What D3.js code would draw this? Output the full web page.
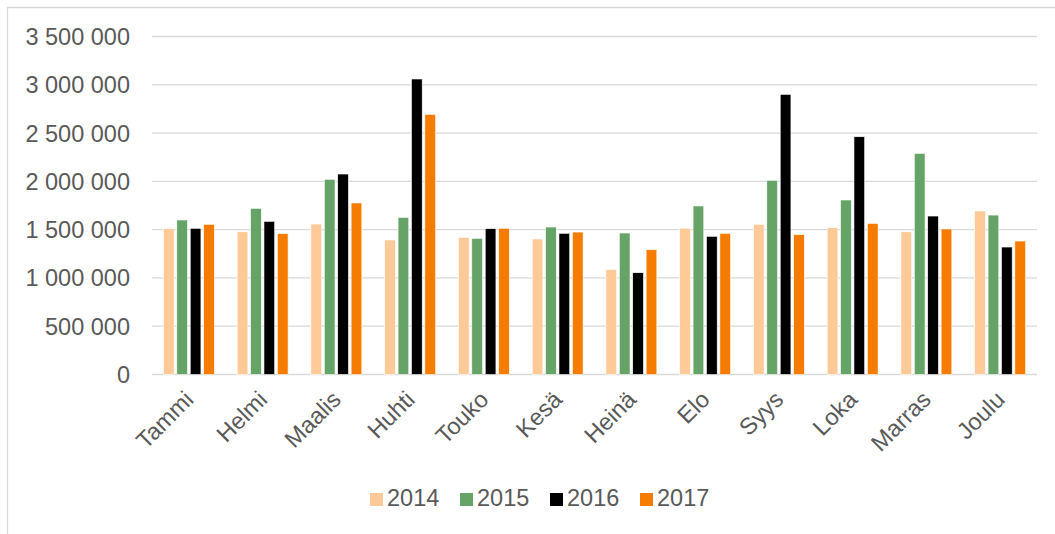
<!DOCTYPE html>
<html><head><meta charset="utf-8">
<script src="https://cdn.jsdelivr.net/npm/d3@7"></script>
<style>html,body{margin:0;padding:0;background:#fff;}svg{display:block;}</style>
</head><body>
<svg id="chart" width="1055" height="534"></svg>
<script>
const months = ["Tammi","Helmi","Maalis","Huhti","Touko","Kesä","Heinä","Elo","Syys","Loka","Marras","Joulu"];
const years = ["2014","2015","2016","2017"];
const v2014 = [1510000,1478000,1558000,1393000,1420000,1403000,1085000,1515000,1555000,1520000,1478000,1693000];
const v2015 = [1600000,1721000,2021000,1627000,1410000,1527000,1465000,1745000,2011000,1807000,2290000,1651000];
const v2016 = [1514000,1586000,2076000,3060000,1510000,1462000,1054000,1431000,2901000,2462000,1641000,1320000];
const v2017 = [1555000,1458000,1776000,2694000,1514000,1475000,1292000,1462000,1448000,1565000,1507000,1382000];
const yTicks = [0,500000,1000000,1500000,2000000,2500000,3000000,3500000];
const colors = ["#FFCA98","#66A366","#000000","#F67C00"];
const series = [v2014, v2015, v2016, v2017];

const svg = d3.select("#chart");
const font = "'Liberation Sans', Arial, sans-serif";
const textColor = "#595959";

// frame
svg.append("path").attr("d","M7.5,534 L7.5,7.5 L1055,7.5").attr("fill","none").attr("stroke","#D9D9D9").attr("stroke-width",1.3);

const x0 = d3.scaleBand().domain(months).range([152,1037]).paddingInner(0).paddingOuter(0);
const y = d3.scaleLinear().domain([0,3500000]).range([374.5,36.5]);
const inner = 13.4*4;
const x1 = d3.scaleBand().domain(years).range([0, inner]).paddingInner(0.2).paddingOuter(0.1);

const fmt = v => d3.format(",")(v).replace(/,/g, "\u00a0");

// grid
const grid = svg.append("g");
yTicks.forEach(t => {
  grid.append("line").attr("x1",152).attr("x2",1037).attr("y1",y(t)).attr("y2",y(t))
    .attr("stroke","#D9D9D9").attr("stroke-width",1.3);
});

// y axis labels
const yAxis = d3.axisLeft(y).tickValues(yTicks).tickFormat(fmt).tickSize(0).tickPadding(0);
const ya = svg.append("g").attr("transform","translate(130,0)").call(yAxis);
ya.select(".domain").remove();
ya.selectAll("text").attr("font-family",font).attr("font-size","23.5px").attr("fill",textColor).attr("dy","0.34em");

// bars
const groups = svg.append("g").selectAll("g").data(months).join("g")
  .attr("transform", (d) => `translate(${x0(d) + (x0.bandwidth()-inner)/2},0)`);
groups.selectAll("rect").data((d,i) => years.map((yr,j) => ({yr, v: series[j][i], c: colors[j]})))
  .join("rect")
  .attr("x", d => x1(d.yr))
  .attr("width", x1.bandwidth())
  .attr("y", d => y(d.v))
  .attr("height", d => y(0) - y(d.v))
  .attr("fill", d => d.c)
  .attr("stroke","#ffffff").attr("stroke-width",0.6);

// x labels
const xl = svg.append("g");
months.forEach(m => {
  const cx = x0(m) + x0.bandwidth()/2;
  xl.append("text").attr("transform",`translate(${cx+6},${401}) rotate(-45)`)
    .attr("text-anchor","end").attr("font-family",font).attr("font-size","23.5px")
    .attr("fill",textColor).text(m);
});

// legend
const lg = svg.append("g");
years.forEach((yr,j) => {
  const lx = 370 + j*90;
  lg.append("rect").attr("x",lx).attr("y",493).attr("width",13).attr("height",13).attr("fill",colors[j]);
  lg.append("text").attr("x",lx+17).attr("y",506).attr("font-family",font).attr("font-size","23.5px")
    .attr("fill",textColor).text(yr);
});
</script>
</body></html>
